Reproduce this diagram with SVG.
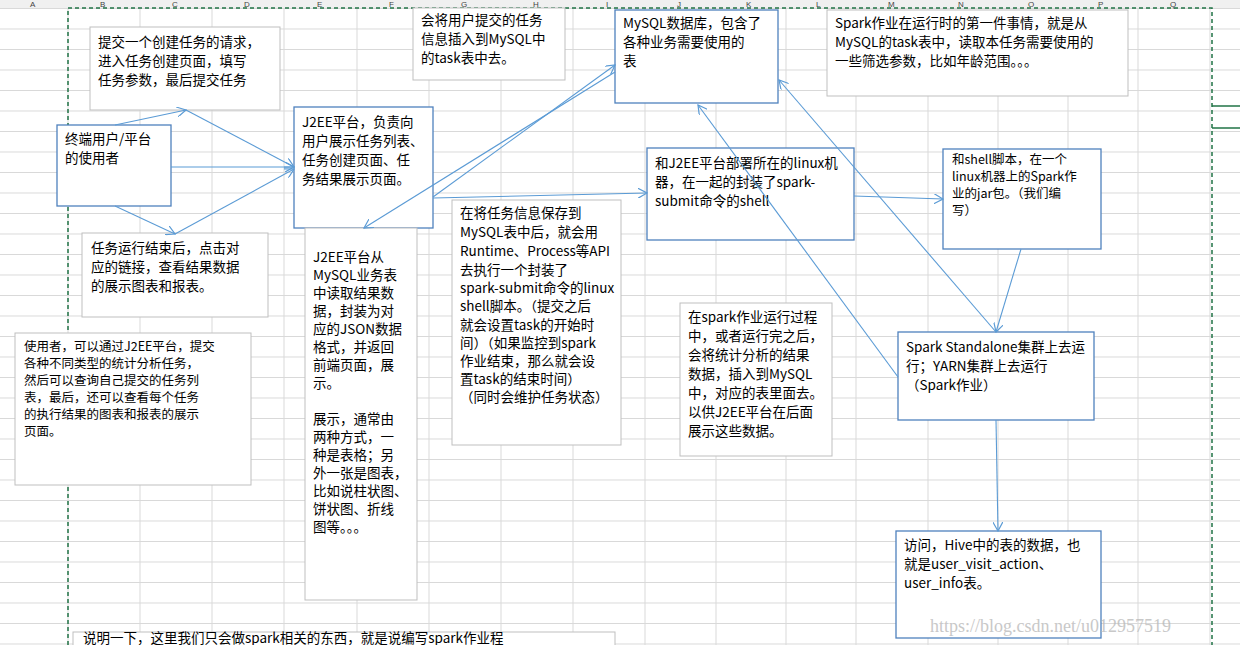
<svg xmlns="http://www.w3.org/2000/svg" width="1240" height="645" viewBox="0 0 1240 645">
<defs>
<pattern id="grid" x="0" y="8" width="1240" height="20.5" patternUnits="userSpaceOnUse"><line x1="0" y1="0.5" x2="1240" y2="0.5" stroke="#d9d9d9" stroke-width="1"/></pattern>
<marker id="ar" viewBox="0 0 10 10" refX="9" refY="5" markerWidth="10" markerHeight="10" orient="auto" markerUnits="userSpaceOnUse"><path d="M0,0 L9,5 L0,10" fill="none" stroke="#5b9bd5" stroke-width="1.2"/></marker>
<style>
.t{font-family:"Noto Sans CJK SC","Microsoft YaHei",sans-serif;font-size:13.5px;fill:#000}
.s{font-size:12.5px}
.bb{fill:#fff;stroke:#4f81bd;stroke-width:1.3}
.gb{fill:#fff;stroke:#bfbfbf;stroke-width:1}
.c line{stroke:#5b9bd5;stroke-width:1.1;marker-end:url(#ar)}
.h{font-family:"Liberation Sans",sans-serif;font-size:8px;fill:#444}
</style>
</defs>
<rect width="1240" height="645" fill="#fff"/>
<rect y="8" width="1240" height="637" fill="url(#grid)"/>
<g stroke="#d9d9d9">
<line x1="68" y1="0" x2="68" y2="645"/><line x1="140" y1="0" x2="140" y2="645"/><line x1="212" y1="0" x2="212" y2="645"/><line x1="284" y1="0" x2="284" y2="645"/><line x1="357" y1="0" x2="357" y2="645"/><line x1="429" y1="0" x2="429" y2="645"/><line x1="501" y1="0" x2="501" y2="645"/><line x1="573" y1="0" x2="573" y2="645"/><line x1="645" y1="0" x2="645" y2="645"/><line x1="716" y1="0" x2="716" y2="645"/><line x1="786" y1="0" x2="786" y2="645"/><line x1="856" y1="0" x2="856" y2="645"/><line x1="928" y1="0" x2="928" y2="645"/><line x1="998" y1="0" x2="998" y2="645"/><line x1="1068" y1="0" x2="1068" y2="645"/><line x1="1138" y1="0" x2="1138" y2="645"/><line x1="1210" y1="0" x2="1210" y2="645"/>
</g>
<rect width="1240" height="8" fill="#f0f0f0"/>
<g class="h"><text x="30" y="7">A</text><text x="100" y="7">B</text><text x="172" y="7">C</text><text x="244" y="7">D</text><text x="317" y="7">E</text><text x="389" y="7">F</text><text x="461" y="7">G</text><text x="533" y="7">H</text><text x="606" y="7">I</text><text x="677" y="7">J</text><text x="746" y="7">K</text><text x="816" y="7">L</text><text x="888" y="7">M</text><text x="958" y="7">N</text><text x="1028" y="7">O</text><text x="1098" y="7">P</text><text x="1170" y="7">Q</text></g>
<g fill="none" stroke="#217346" stroke-width="1.5" stroke-dasharray="4,3"><path d="M68,645 V8 H1212 V645"/></g>
<g stroke="#217346" stroke-width="1.5"><line x1="1212" y1="106" x2="1240" y2="106"/><line x1="1212" y1="128" x2="1240" y2="128"/></g>

<g id="n-submit"><rect class="gb" x="90" y="27" width="190" height="83"/><text class="t" x="98" y="47">提交一个创建任务的请求，</text><text class="t" x="98" y="66">进入任务创建页面，填写</text><text class="t" x="98" y="85">任务参数，最后提交任务</text></g>
<g id="n-insert"><rect class="gb" x="413" y="8" width="152" height="72"/><text class="t" x="421" y="25">会将用户提交的任务</text><text class="t" x="421" y="44">信息插入到MySQL中</text><text class="t" x="421" y="63">的task表中去。</text></g>
<g id="n-user"><rect class="bb" x="57" y="125" width="114" height="81"/><text class="t" x="65" y="144">终端用户/平台</text><text class="t" x="65" y="163">的使用者</text></g>
<g id="n-j2ee"><rect class="bb" x="294" y="107" width="139" height="121"/><text class="t" x="302" y="127">J2EE平台，负责向</text><text class="t" x="302" y="146">用户展示任务列表、</text><text class="t" x="302" y="165">任务创建页面、任</text><text class="t" x="302" y="184">务结果展示页面。</text></g>
<g id="n-mysql"><rect class="bb" x="615" y="10" width="163" height="93"/><text class="t" x="623" y="28">MySQL数据库，包含了</text><text class="t" x="623" y="47">各种业务需要使用的</text><text class="t" x="623" y="66">表</text></g>
<g id="n-first"><rect class="gb" x="827" y="10" width="301" height="86"/><text class="t" x="835" y="28">Spark作业在运行时的第一件事情，就是从</text><text class="t" x="835" y="47">MySQL的task表中，读取本任务需要使用的</text><text class="t" x="835" y="66">一些筛选参数，比如年龄范围。。。</text></g>
<g id="n-linux"><rect class="bb" x="647" y="148" width="207" height="92"/><text class="t" x="655" y="168">和J2EE平台部署所在的linux机</text><text class="t" x="655" y="187">器，在一起的封装了spark-</text><text class="t" x="655" y="206">submit命令的shell</text></g>
<g id="n-shell"><rect class="bb" x="943" y="149" width="158" height="100"/><text class="t s" x="952" y="164">和shell脚本，在一个</text><text class="t s" x="952" y="181">linux机器上的Spark作</text><text class="t s" x="952" y="198">业的jar包。（我们编</text><text class="t s" x="952" y="215">写）</text></g>
<g id="n-finish"><rect class="gb" x="82" y="233" width="186" height="84"/><text class="t" x="91" y="253">任务运行结束后，点击对</text><text class="t" x="91" y="272">应的链接，查看结果数据</text><text class="t" x="91" y="291">的展示图表和报表。</text></g>
<g id="n-read"><rect class="gb" x="305" y="228" width="112" height="372"/><text class="t" x="313" y="262">J2EE平台从</text><text class="t" x="313" y="280">MySQL业务表</text><text class="t" x="313" y="298">中读取结果数</text><text class="t" x="313" y="316">据，封装为对</text><text class="t" x="313" y="334">应的JSON数据</text><text class="t" x="313" y="352">格式，并返回</text><text class="t" x="313" y="370">前端页面，展</text><text class="t" x="313" y="388">示。</text><text class="t" x="313" y="424">展示，通常由</text><text class="t" x="313" y="442">两种方式，一</text><text class="t" x="313" y="460">种是表格；另</text><text class="t" x="313" y="478">外一张是图表，</text><text class="t" x="313" y="496">比如说柱状图、</text><text class="t" x="313" y="514">饼状图、折线</text><text class="t" x="313" y="532">图等。。。</text></g>
<g id="n-save"><rect class="gb" x="452" y="200" width="169" height="245"/><text class="t" x="460" y="218">在将任务信息保存到</text><text class="t" x="460" y="237">MySQL表中后，就会用</text><text class="t" x="460" y="256">Runtime、Process等API</text><text class="t" x="460" y="275">去执行一个封装了</text><text class="t" x="460" y="293">spark-submit命令的linux</text><text class="t" x="460" y="311">shell脚本。（提交之后</text><text class="t" x="460" y="330">就会设置task的开始时</text><text class="t" x="460" y="348">间）（如果监控到spark</text><text class="t" x="460" y="366">作业结束，那么就会设</text><text class="t" x="460" y="384">置task的结束时间）</text><text class="t" x="460" y="402">（同时会维护任务状态）</text></g>
<g id="n-usage"><rect class="gb" x="15" y="333" width="236" height="152"/><text class="t s" x="24" y="351">使用者，可以通过J2EE平台，提交</text><text class="t s" x="24" y="368">各种不同类型的统计分析任务，</text><text class="t s" x="24" y="385">然后可以查询自己提交的任务列</text><text class="t s" x="24" y="402">表，最后，还可以查看每个任务</text><text class="t s" x="24" y="419">的执行结果的图表和报表的展示</text><text class="t s" x="24" y="436">页面。</text></g>
<g id="n-result"><rect class="gb" x="680" y="303" width="152" height="153"/><text class="t" x="688" y="322">在spark作业运行过程</text><text class="t" x="688" y="341">中，或者运行完之后，</text><text class="t" x="688" y="360">会将统计分析的结果</text><text class="t" x="688" y="379">数据，插入到MySQL</text><text class="t" x="688" y="398">中，对应的表里面去。</text><text class="t" x="688" y="417">以供J2EE平台在后面</text><text class="t" x="688" y="436">展示这些数据。</text></g>
<g id="n-spark"><rect class="bb" x="898" y="332" width="196" height="88"/><text class="t" x="906" y="352">Spark Standalone集群上去运</text><text class="t" x="906" y="371">行；YARN集群上去运行</text><text class="t" x="906" y="390">（Spark作业）</text></g>
<g id="n-hive"><rect class="bb" x="896" y="531" width="205" height="107"/><text class="t" x="904" y="550">访问，Hive中的表的数据，也</text><text class="t" x="904" y="569">就是user_visit_action、</text><text class="t" x="904" y="588">user_info表。</text></g>
<g id="n-note"><rect class="gb" x="73" y="632" width="542" height="20"/><text class="t" x="83" y="643" font-size="11">说明一下，这里我们只会做spark相关的东西，就是说编写spark作业程</text></g>

<g id="connectors" class="c">
<line x1="115" y1="125" x2="186" y2="110"/>
<line x1="186" y1="110" x2="294" y2="167"/>
<line x1="171" y1="167" x2="294" y2="167"/>
<line x1="115" y1="206" x2="175" y2="234"/>
<line x1="175" y1="234" x2="294" y2="169"/>
<line x1="433" y1="197" x2="615" y2="65"/>
<line x1="615" y1="72" x2="364" y2="228"/>
<line x1="433" y1="198" x2="647" y2="193"/>
<line x1="854" y1="196" x2="943" y2="199"/>
<line x1="1021" y1="249" x2="996" y2="332"/>
<line x1="996" y1="332" x2="779" y2="80"/>
<line x1="898" y1="377" x2="698" y2="105"/>
<line x1="996" y1="420" x2="998" y2="531"/>
</g>
<text x="930" y="632" font-family="Liberation Serif,serif" font-size="18" fill="#bbb" opacity="0.8">https://blog.csdn.net/u012957519</text>
</svg>
